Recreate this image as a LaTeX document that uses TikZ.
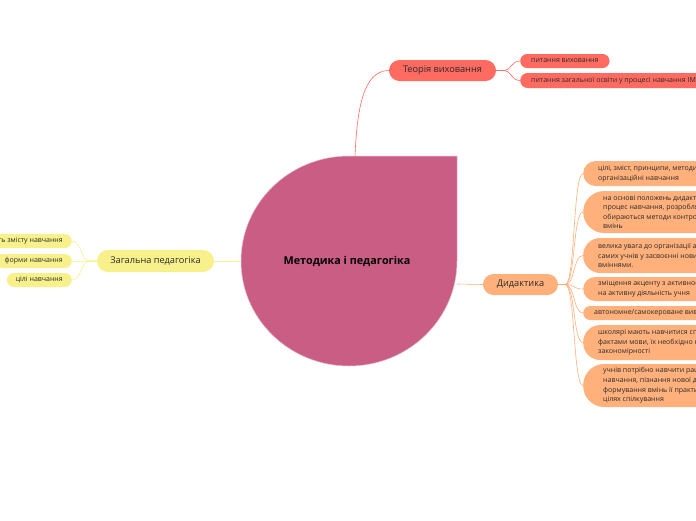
\documentclass[tikz,border=0pt]{standalone}
\usepackage{fontspec}
\setmainfont{Open Sans}
\definecolor{cpink}{HTML}{C95D83}
\definecolor{cred}{HTML}{FF6A61}
\definecolor{corange}{HTML}{FFB07B}
\definecolor{cyellow}{HTML}{F8F18B}
\definecolor{ctext}{HTML}{2B2B2B}
\tikzset{
  mainbox/.style={rounded corners=10.5pt, minimum height=21pt, inner sep=0pt,
    font=\fontsize{9.2}{10}\selectfont, text=ctext},
  leaf/.style={font=\fontsize{7}{9.6}\selectfont, text=ctext, align=left, inner ysep=0pt},
  redline/.style={draw=cred, line width=0.6pt},
  orline/.style={draw=corange, line width=0.6pt},
  yeline/.style={draw=cyellow, line width=0.6pt},
}
\begin{document}
\begin{tikzpicture}[x=1pt,y=-1pt]
\useasboundingbox (0,0) rectangle (696,520);
% central shape
\fill[cpink, draw=cpink!40!white, line width=0.5pt] (457,156) -- (457,261) arc[start angle=0,end angle=270,x radius=108,y radius=105] -- cycle;
\node[font=\fontsize{10.8}{12}\bfseries, text=black] (cen) at (347,261.5) {Методика і педагогіка};
\coordinate (ctop) at (355,156);
\coordinate (cright) at (457,284);
\coordinate (cleft) at (241,261);

% main branches
\node[mainbox, fill=cred, minimum width=107pt] (teo) at (442.5,70.5) {Теорія виховання};
\node[mainbox, fill=corange, minimum width=75pt] (dk) at (520.5,284.5) {Дидактика};
\node[mainbox, fill=cyellow, minimum width=117pt, minimum height=22pt, rounded corners=11pt] (zp) at (155.5,261) {Загальна педагогіка};

\draw[redline] (ctop) .. controls (357,110) and (363,70.5) .. (teo.west);
\draw[orline] (cright) -- (dk.west);
\draw[yeline] (cleft) -- (zp.east);

% Теорія виховання leaves
\node[leaf, fill=cred, rounded corners=7pt, minimum height=14pt, inner xsep=11pt, anchor=west] (t1) at (520,61) {питання виховання};
\node[leaf, fill=cred, rounded corners=7.5pt, minimum height=15pt, inner xsep=11pt, anchor=west, minimum width=200pt] (t2) at (520,80.5) {питання загальної освіти у процесі навчання ІМ\hspace{60pt}};
\draw[redline] (teo.east) -- ++(8,0) .. controls +(7,0) and +(-9,0) .. (t1.west);
\draw[redline] (teo.east) -- ++(8,0) .. controls +(7,0) and +(-9,0) .. (t2.west);

% Загальна педагогіка leaves
\node[leaf, fill=cyellow, rounded corners=7pt, minimum height=14pt, inner xsep=9pt, anchor=east] (z1) at (72,241) {сутність змісту навчання};
\node[leaf, fill=cyellow, rounded corners=7pt, minimum height=14pt, inner xsep=9pt, anchor=east] (z2) at (72,261) {форми навчання};
\node[leaf, fill=cyellow, rounded corners=7pt, minimum height=14pt, inner xsep=9pt, anchor=east] (z3) at (72,280) {цілі навчання};
\foreach \z in {z1,z2,z3}
  \draw[yeline] (zp.west) -- ++(-8,0) .. controls +(-7,0) and +(9,0) .. (\z.east);

% Дидактика leaves
\node[leaf, fill=corange, rounded corners=12.5pt, minimum height=25pt, inner xsep=15pt, anchor=west] (d1) at (583,173.5)
  {цілі, зміст, принципи, методи, засоби, форми\\організаційні навчання};
\node[leaf, fill=corange, rounded corners=21pt, minimum height=42pt, inner xsep=20pt, anchor=west] (d2) at (583,212)
  {на основі положень дидактики моделюється\\процес навчання, розробляються прийоми,\\обираються методи контролю знань і\\вмінь};
\node[leaf, fill=corange, rounded corners=17pt, minimum height=35pt, inner xsep=15pt, anchor=west] (d3) at (583,255.5)
  {велика увага до організації активної роботи\\самих учнів у засвоєнні нових знань та\\вміннями.};
\node[leaf, fill=corange, rounded corners=12pt, minimum height=24pt, inner xsep=15pt, anchor=west] (d4) at (583,289)
  {зміщення акценту з активності вчителя\\на активну діяльність учня};
\node[leaf, fill=corange, rounded corners=7pt, minimum height=14pt, inner xsep=11pt, anchor=west] (d5) at (583,313)
  {автономне/самокероване вивчення мови};
\node[leaf, fill=corange, rounded corners=17pt, minimum height=35pt, inner xsep=15pt, anchor=west] (d6) at (583,342.5)
  {школярі мають навчитися спостерігати за\\фактами мови, їх необхідно навчити виявляти\\закономірності};
\node[leaf, fill=corange, rounded corners=21pt, minimum height=43pt, inner xsep=20pt, anchor=west] (d7) at (583,385.5)
  {учнів потрібно навчити раціональних прийомів\\навчання, пізнання нової дійсності,\\формування вмінь її практичного використання\\цілях спілкування};
\foreach \d in {d1,d2,d3,d4,d5,d6,d7}
  \draw[orline] (dk.east) -- ++(7,0) .. controls +(10,0) and +(-10,0) .. (\d.west);
\end{tikzpicture}
\end{document}
